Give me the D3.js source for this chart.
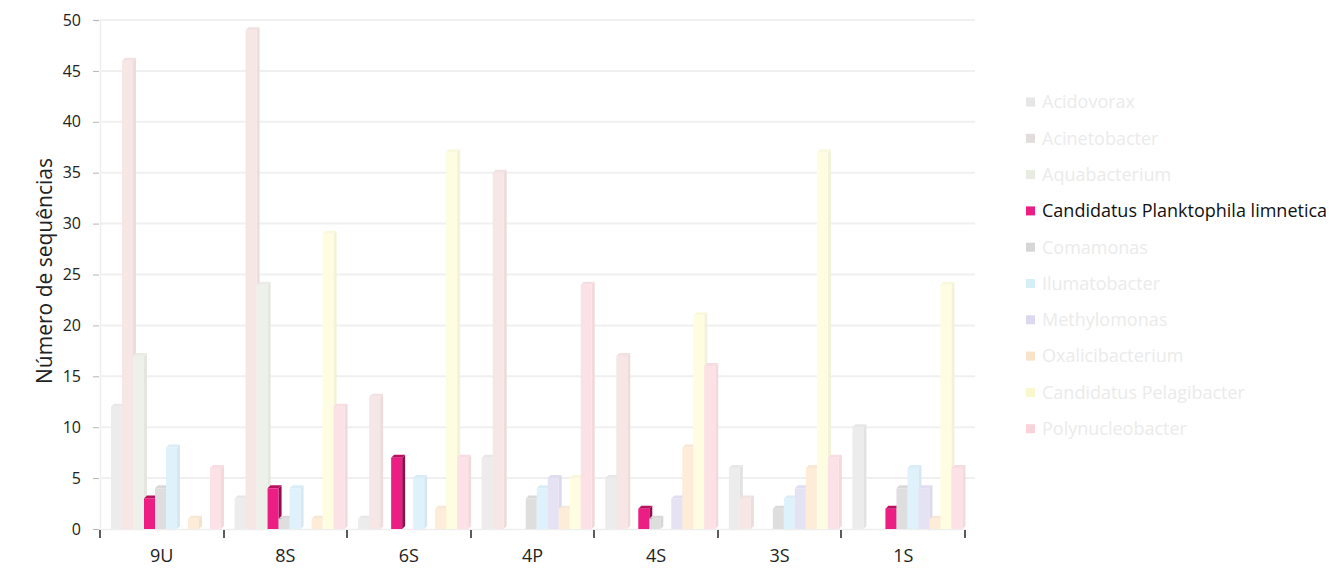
<!DOCTYPE html>
<html>
<head>
<meta charset="utf-8">
<script src="https://cdn.jsdelivr.net/npm/d3@7"></script>
<style>
  html, body { margin: 0; padding: 0; background: #ffffff; }
  svg { display: block; font-family: "Open Sans", "Noto Sans", sans-serif; }
</style>
</head>
<body>
<svg id="chart" width="1329" height="579"></svg>
<script>
// Sampling sites
const categories = ["9U", "8S", "6S", "4P", "4S", "3S", "1S"];

// Genera (legend order = bar order inside each group)
const series = [
  "Acidovorax", "Acinetobacter", "Aquabacterium",
  "Candidatus Planktophila limnetica", "Comamonas", "Ilumatobacter",
  "Methylomonas", "Oxalicibacterium", "Candidatus Pelagibacter", "Polynucleobacter"
];

// Number of sequences per genus, one value per site
const acidovorax       = [12,  3,  1,  7,  5,  6, 10];
const acinetobacter    = [46, 49, 13, 35, 17,  3,  0];
const aquabacterium    = [17, 24,  0,  0,  0,  0,  0];
const planktophila     = [ 3,  4,  7,  0,  2,  0,  2];
const comamonas        = [ 4,  1,  0,  3,  1,  2,  4];
const ilumatobacter    = [ 8,  4,  5,  4,  0,  3,  6];
const methylomonas     = [ 0,  0,  0,  5,  3,  4,  4];
const oxalicibacterium = [ 1,  1,  2,  2,  8,  6,  1];
const pelagibacter     = [ 0, 29, 37,  5, 21, 37, 24];
const polynucleobacter = [ 6, 12,  7, 24, 16,  7,  6];

const yTicks = [0, 5, 10, 15, 20, 25, 30, 35, 40, 45, 50];

const seriesValues = [
  acidovorax, acinetobacter, aquabacterium, planktophila, comamonas,
  ilumatobacter, methylomonas, oxalicibacterium, pelagibacter, polynucleobacter
];

// Highlighted genus in strong colour, the rest faded
const barColors = [
  "#ececec", "#f6e6e6", "#eef0ea", "#ec1e84", "#dedede",
  "#dff1fb", "#e5e2f4", "#fcecd8", "#fefde2", "#fce2e6"
];
const legendSwatch = [
  "#e6e6e6", "#e2dcdc", "#e8ebe2", "#ec1e84", "#d6d6d6",
  "#d6eef6", "#dcd8f0", "#f8e2c8", "#f9f8cc", "#f8d4da"
];
const legendText = series.map((s, i) => i === 3 ? "#111111" : "#ebebeb");

const svg = d3.select("#chart");

const x0 = d3.scaleBand().domain(categories).range([100, 965]).padding(0);
const x1 = d3.scaleBand().domain(series).range([11, 121]).padding(0);
const y = d3.scaleLinear().domain([0, 50]).range([529, 20]);

// Horizontal gridlines
svg.append("g")
  .selectAll("line")
  .data(yTicks.filter(t => t > 0))
  .join("line")
  .attr("x1", 100).attr("x2", 975)
  .attr("y1", d => y(d)).attr("y2", d => y(d))
  .attr("stroke", "#f0f0f0").attr("stroke-width", 2);

// Y axis
const yAxis = svg.append("g")
  .attr("transform", "translate(100,0)")
  .call(d3.axisLeft(y).tickValues(yTicks).tickSize(6).tickPadding(13));
yAxis.select(".domain").attr("stroke", "#eeeeee").attr("stroke-width", 1.5);
yAxis.selectAll(".tick line").attr("stroke", "#b5b5b5").attr("transform", "translate(-1,0)");
yAxis.selectAll(".tick text")
  .attr("fill", "#222").attr("font-size", 16)
  .attr("font-family", "'Open Sans', sans-serif");

// X axis with ticks on group boundaries
const xAxis = svg.append("g").attr("transform", `translate(0,${y(0)})`);
xAxis.append("line")
  .attr("x1", 100).attr("x2", 966)
  .attr("y1", 0.5).attr("y2", 0.5)
  .attr("stroke", "#eeeeee").attr("stroke-width", 1.5);
const boundaries = categories.map(c => x0(c)).concat([x0(categories[categories.length - 1]) + x0.bandwidth()]);
xAxis.selectAll("line.tk")
  .data(boundaries)
  .join("line")
  .attr("class", "tk")
  .attr("x1", d => Math.round(d)).attr("x2", d => Math.round(d))
  .attr("y1", 1).attr("y2", 9)
  .attr("stroke", "#333").attr("stroke-width", 1.6);
xAxis.selectAll("text")
  .data(categories)
  .join("text")
  .attr("x", d => x0(d) + x0.bandwidth() / 2)
  .attr("y", 33)
  .attr("text-anchor", "middle")
  .attr("fill", "#222").attr("font-size", 18)
  .text(d => d);

// Y axis title
svg.append("text")
  .attr("transform", "translate(52,271) rotate(-90)")
  .attr("text-anchor", "middle")
  .attr("fill", "#222").attr("font-size", 21)
  .text("Número de sequências");

// Bars with a shallow bevelled top and side
const barW = 11, depth = 3;
const bars = [];
categories.forEach((c, ci) => {
  series.forEach((s, si) => {
    bars.push({ c, s, si, v: seriesValues[si][ci] });
  });
});

const barG = svg.append("g");
const groups = barG.selectAll("g.bar")
  .data(bars.filter(d => d.v > 0))
  .join("g")
  .attr("class", "bar");

groups.each(function (d) {
  const g = d3.select(this);
  const cx = x0(d.c) + x1(d.s) + x1.bandwidth() / 2;
  const left = cx - barW / 2;
  const right = left + barW;
  const top = y(d.v);
  const base = y(0);
  const col = d3.color(barColors[d.si]);
  const strong = d.si === 3;
  const sideCol = strong ? "#8c0f4e" : col.darker(0.12).formatHex();
  const topCol = strong ? "#b8125f" : col.darker(0.06).formatHex();
  // side face
  g.append("path")
    .attr("d", `M${right},${top} L${right + depth},${top - depth} L${right + depth},${base - depth} L${right},${base} Z`)
    .attr("fill", sideCol);
  // top face
  g.append("path")
    .attr("d", `M${left},${top} L${left + depth},${top - depth} L${right + depth},${top - depth} L${right},${top} Z`)
    .attr("fill", topCol);
  // front face
  g.append("rect")
    .attr("x", left).attr("y", top)
    .attr("width", barW).attr("height", base - top)
    .attr("fill", col.formatHex());
});

// Legend
const legend = svg.append("g")
  .selectAll("g")
  .data(series)
  .join("g")
  .attr("transform", (d, i) => `translate(1026,${102 + i * 36.3})`);
legend.append("rect")
  .attr("x", 0).attr("y", -4.5)
  .attr("width", 9).attr("height", 9)
  .attr("fill", (d, i) => legendSwatch[i]);
legend.append("text")
  .attr("x", 16).attr("y", 0)
  .attr("dy", "0.35em")
  .attr("font-size", 18)
  .attr("fill", (d, i) => legendText[i])
  .text(d => d);
</script>
</body>
</html>
